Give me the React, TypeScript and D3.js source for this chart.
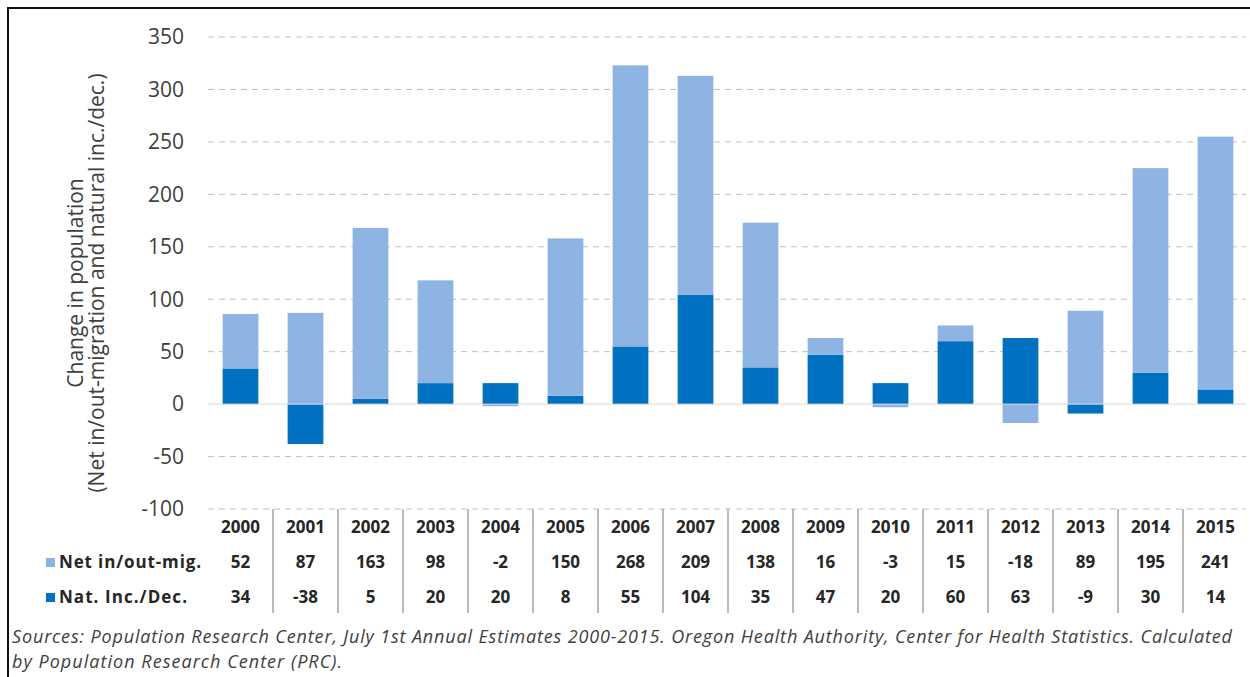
import { useEffect, useRef } from 'react';
import * as d3 from 'd3';

// chart data
const years = ['2000', '2001', '2002', '2003', '2004', '2005', '2006', '2007', '2008', '2009', '2010', '2011', '2012', '2013', '2014', '2015'];
const netMigration = [52, 87, 163, 98, -2, 150, 268, 209, 138, 16, -3, 15, -18, 89, 195, 241];
const naturalChange = [34, -38, 5, 20, 20, 8, 55, 104, 35, 47, 20, 60, 63, -9, 30, 14];
const yTicks = [-100, -50, 0, 50, 100, 150, 200, 250, 300, 350];
const seriesNames = ['Net in/out-mig.', 'Nat. Inc./Dec.'];

const W = 1250;
const H = 677;
const FONT = "'Open Sans', Lato, sans-serif";
const LIGHT = '#8db4e2';
const DARK = '#0070c0';

function App() {
	const ref = useRef<SVGSVGElement>(null);

	useEffect(() => {
		const svg = d3.select(ref.current);
		svg.selectAll('*').remove();

		const x = d3.scaleBand<string>().domain(years).range([208, 1248]).paddingInner(0.45).paddingOuter(0.225);
		const step = x.step();
		const left = 208;
		const y = d3.scaleLinear().domain([-100, 350]).range([509, 37]);

		svg.append('rect').attr('width', W).attr('height', H).attr('fill', '#fff');
		// border (left + top)
		svg.append('path')
			.attr('d', `M8,${H} L8,8 L${W},8`)
			.attr('fill', 'none')
			.attr('stroke', '#111')
			.attr('stroke-width', 2);

		// grid
		svg.append('g')
			.selectAll('line')
			.data(yTicks.filter((t) => t !== 0))
			.join('line')
			.attr('x1', left)
			.attr('x2', 1246)
			.attr('y1', (d) => y(d))
			.attr('y2', (d) => y(d))
			.attr('stroke', '#bfbfbf')
			.attr('stroke-width', 1)
			.attr('stroke-dasharray', '6,5');

		svg.append('g')
			.selectAll('text')
			.data(yTicks)
			.join('text')
			.attr('x', 184)
			.attr('y', (d) => y(d))
			.attr('dy', '0.35em')
			.attr('text-anchor', 'end')
			.attr('font-family', FONT)
			.attr('font-size', 21)
			.attr('fill', '#404040')
			.text((d) => d);

		// stacked bars, negatives stack below zero
		const rows = years.map((yr, i) => ({ year: yr, nat: naturalChange[i], net: netMigration[i] }));
		const stack = d3.stack<any>().keys(['nat', 'net']).offset(d3.stackOffsetDiverging);
		const colors: Record<string, string> = { nat: DARK, net: LIGHT };
		svg.append('g')
			.selectAll('g')
			.data(stack(rows))
			.join('g')
			.attr('fill', (s) => colors[s.key])
			.selectAll('rect')
			.data((s) => s)
			.join('rect')
			.attr('x', (d) => x(d.data.year)!)
			.attr('width', x.bandwidth())
			.attr('y', (d) => y(Math.max(d[0], d[1])))
			.attr('height', (d) => Math.abs(y(d[0]) - y(d[1])));

		// zero line
		svg.append('line')
			.attr('x1', left)
			.attr('x2', 1246)
			.attr('y1', y(0))
			.attr('y2', y(0))
			.attr('stroke', '#d9d9d9')
			.attr('stroke-width', 1);

		// data table
		const table = svg.append('g').attr('font-family', FONT).attr('font-weight', 'bold').attr('font-size', 17).attr('fill', '#262626');
		table.selectAll('line')
			.data(years.slice(1))
			.join('line')
			.attr('x1', (d) => x(d)! - (step - x.bandwidth()) / 2)
			.attr('x2', (d) => x(d)! - (step - x.bandwidth()) / 2)
			.attr('y1', 509)
			.attr('y2', 613)
			.attr('stroke', '#8c8c8c')
			.attr('stroke-width', 1.2);

		const rowY = [527, 562, 597];
		const tableRows = [years, netMigration, naturalChange];
		tableRows.forEach((vals, r) => {
			table.append('g')
				.selectAll('text')
				.data(vals)
				.join('text')
				.attr('x', (_, i) => x(years[i])! + x.bandwidth() / 2)
				.attr('y', rowY[r])
				.attr('dy', '0.35em')
				.attr('text-anchor', 'middle')
				.text((d) => d);
		});

		[LIGHT, DARK].forEach((c, i) => {
			table.append('rect')
				.attr('x', 46)
				.attr('y', rowY[i + 1] - 4)
				.attr('width', 9)
				.attr('height', 9)
				.attr('fill', c);
			table.append('text')
				.attr('x', 59)
				.attr('y', rowY[i + 1])
				.attr('dy', '0.35em')
				.attr('textLength', i === 0 ? 142 : 128)
				.text(seriesNames[i]);
		});

		// axis title
		const title = svg.append('g')
			.attr('transform', 'translate(0,283) rotate(-90)')
			.attr('font-family', FONT)
			.attr('font-size', 21)
			.attr('fill', '#404040')
			.attr('text-anchor', 'middle');
		title.append('text').attr('x', 0).attr('y', 83).text('Change in population');
		title.append('text').attr('x', 0).attr('y', 104).text('(Net in/out-migration and natural inc./dec.)');

		// footer
		const foot = svg.append('g')
			.attr('font-family', FONT)
			.attr('font-style', 'italic')
			.attr('font-size', 18)
			.attr('fill', '#404040')
			.style('white-space', 'pre');
		foot.append('text')
			.attr('x', 12)
			.attr('y', 643)
			.attr('textLength', 1220)
			.attr('lengthAdjust', 'spacing')
			.text('Sources:  Population Research Center, July 1st Annual Estimates  2000-2015. Oregon Health Authority, Center for Health Statistics.  Calculated');
		foot.append('text')
			.attr('x', 12)
			.attr('y', 668)
			.attr('textLength', 330)
			.attr('lengthAdjust', 'spacing')
			.text('by Population Research Center (PRC).');
	}, []);

	return (
		<svg
			ref={ref}
			width={W}
			height={H}
			style={{ position: 'absolute', left: 0, top: 0, display: 'block' }}
		/>
	);
}

export default App;
